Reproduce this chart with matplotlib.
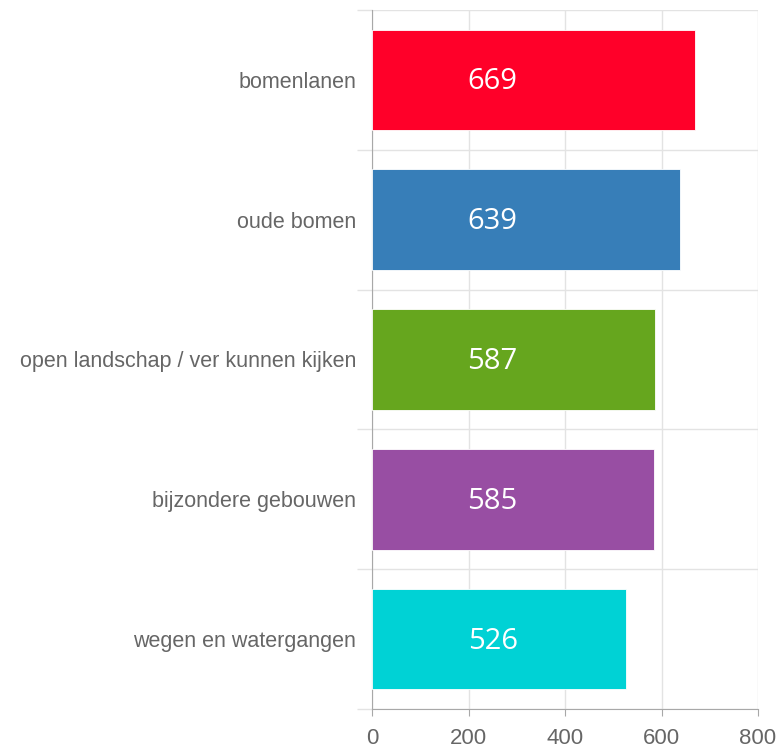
import matplotlib.pyplot as plt
from matplotlib.ticker import FixedLocator

# data
categories = ['bomenlanen', 'oude bomen', 'open landschap / ver kunnen kijken',
              'bijzondere gebouwen', 'wegen en watergangen']
values = [669, 639, 587, 585, 526]
colors = ['#ff0029', '#377eb8', '#66a61e', '#984ea3', '#00d2d5']
x_ticks = [0, 200, 400, 600, 800]

GRID = '#e3e3e3'
SPINE = '#a8a8a8'
TEXT = '#666666'

fig = plt.figure(figsize=(7.79, 7.52), dpi=100)
ax = fig.add_axes([372 / 779, 1 - 709 / 752, 386 / 779, 699 / 752])

ys = list(range(len(categories)))
ax.barh(ys, values, height=0.72, color=colors, edgecolor='white', linewidth=0.6, zorder=3)

# value labels sit at a fixed spot inside each bar
for y, v in zip(ys, values):
    ax.text(250, y + 0.015, str(v), ha='center', va='center', color='white',
            fontsize=21, family='Open Sans', zorder=4)

ax.set_xlim(0, 800)
ax.set_ylim(len(categories) - 0.5, -0.5)
ax.set_xticks(x_ticks)
ax.set_yticks(ys)
ax.set_yticklabels(categories)
ax.yaxis.set_minor_locator(FixedLocator([i - 0.5 for i in range(len(categories) + 1)]))

ax.grid(axis='x', which='major', color=GRID, linewidth=1, zorder=0)
ax.grid(axis='y', which='minor', color=GRID, linewidth=1, zorder=0)

ax.tick_params(axis='y', which='major', length=0, pad=11.5, labelsize=15.5, labelcolor=TEXT)
ax.tick_params(axis='y', which='minor', length=11, color=GRID, width=1)
ax.tick_params(axis='x', which='major', length=5, color=SPINE, pad=8.5, labelsize=16, labelcolor=TEXT)
for lab in ax.get_yticklabels():
    lab.set_family('Liberation Sans')
for lab in ax.get_xticklabels():
    lab.set_family('Liberation Sans')

for side in ['top', 'right']:
    ax.spines[side].set_visible(False)
ax.spines['left'].set_color(SPINE)
ax.spines['bottom'].set_color(SPINE)

fig.savefig('out.png', dpi=100, facecolor='white')
